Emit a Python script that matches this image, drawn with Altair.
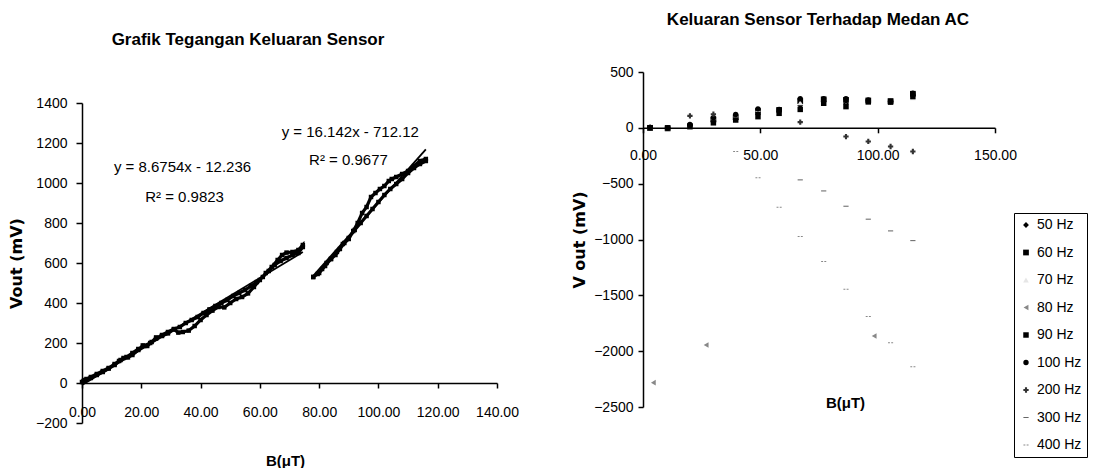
import altair as alt
import pandas as pd

FONT = "Liberation Sans, Arial, sans-serif"
VFONT = "DejaVu Sans"

# ---------------- left chart: hysteresis-like sensor output ----------------
loop1_x = [0.5, 1.5, 3, 5, 7, 9, 11, 12.5, 14, 15.5, 17, 19, 20.5, 22, 23.5, 25, 27, 29, 31, 32.5,
           34, 36, 38, 40, 42, 44, 46, 48, 50, 52, 54, 56, 58, 60, 62, 64, 66, 67.5, 69, 71, 73, 74.5,
           74.5, 73, 71, 69, 67, 65, 63, 61, 59, 57, 55, 53, 51, 49, 47, 45, 43, 41, 39, 37, 35, 33,
           31, 29, 27, 25, 23, 21, 19, 17, 15, 13, 11, 9, 7, 5, 3, 1, 0]
loop1_y = [10, 20, 25, 40, 55, 72, 90, 110, 125, 128, 140, 165, 188, 185, 205, 228, 235, 248, 268, 252,
           255, 262, 285, 315, 340, 362, 380, 378, 400, 420, 430, 448, 480, 515, 550, 580, 615, 640, 652, 655, 665, 690,
           680, 650, 640, 625, 610, 590, 560, 530, 505, 485, 465, 450, 435, 415, 400, 385, 368, 350, 330, 315, 300, 280,
           270, 255, 240, 222, 200, 185, 170, 150, 130, 115, 95, 75, 60, 45, 30, 15, 5]
loop2_x = [78, 79.5, 81, 82.5, 84, 85.5, 87, 88.5, 90, 91.5, 93, 94.5, 96, 97.5, 99, 100.5, 102, 103.5, 104.5,
           106, 108, 110, 112, 114, 116,
           116, 114, 112, 110, 108, 106, 104, 102, 100, 98, 96, 94, 92, 90, 88, 86, 84, 82, 80, 78]
loop2_y = [530, 545, 570, 600, 620, 640, 670, 700, 720, 760, 800, 850, 880, 930, 950, 970, 985, 1010, 1020,
           1030, 1045, 1060, 1085, 1110, 1120,
           1110, 1095, 1075, 1050, 1020, 995, 970, 940, 905, 870, 835, 800, 765, 725, 695, 655, 620, 585, 550, 530]

eq_text = ["y = 8.6754x - 12.236", "R² = 0.9823", "y = 16.142x - 712.12", "R² = 0.9677"]
eq_b = [33.9, 34.6, 90.5, 89.9]
eq_v = [1082, 932, 1257, 1115]

left_df = pd.DataFrame({
    "B": loop1_x + loop2_x,
    "V": loop1_y + loop2_y,
    "seri": ["1"] * len(loop1_x) + ["2"] * len(loop2_x),
    "i": list(range(len(loop1_x))) + list(range(len(loop2_x))),
})
eq_df = pd.DataFrame({"B": eq_b, "V": eq_v, "t": eq_text})

# ---------------- right chart: output vs AC field ----------------
freq_labels = ["50 Hz", "60 Hz", "70 Hz", "80 Hz", "90 Hz", "100 Hz", "200 Hz", "300 Hz", "400 Hz"]
B_ac = [3, 10.5, 20, 30, 39.5, 49, 58, 67, 77, 86.5, 96, 105.5, 115]
v50 = [5, 0, 20, 60, 75, 120, 140, 200, 240, 215, 240, 235, 290]
v60 = [0, -5, 15, 75, 95, 150, 160, 240, 255, 250, 245, 240, 305]
v70 = [5, 0, 25, 85, 110, 165, 155, 225, 230, 200, 235, 238, 270]
v90 = [0, 0, 10, 45, 70, 100, 130, 165, 220, 190, 232, 230, 280]
v100 = [3, -3, 30, 90, 120, 170, 165, 260, 260, 260, 250, 236, 310]
b80 = [4.4, 26.9, 98.5]
v80 = [-2282, -1944, -1864]
b200 = [20, 30, 67, 86.5, 96, 105.5, 115]
v200 = [107, 122, 51, -78, -122, -167, -212]
b300 = [67, 77, 86.5, 96, 105.5, 115]
v300 = [-466, -565, -702, -818, -923, -1010]
b400 = [39.5, 49, 58, 67, 77, 86.5, 96, 105.5, 115]
v400 = [-212, -448, -712, -974, -1198, -1445, -1690, -1924, -2139]

rows = []
for lab, bs, vs in [("50 Hz", B_ac, v50), ("60 Hz", B_ac, v60), ("70 Hz", B_ac, v70),
                    ("80 Hz", b80, v80), ("90 Hz", B_ac, v90), ("100 Hz", B_ac, v100),
                    ("200 Hz", b200, v200), ("300 Hz", b300, v300), ("400 Hz", b400, v400)]:
    for b, v in zip(bs, vs):
        rows.append({"B": b, "V": v, "f": lab})
right_df = pd.DataFrame(rows)

anchor_df = pd.DataFrame({"t": ["."]})
title_l_df = pd.DataFrame({"t": ["Grafik Tegangan Keluaran Sensor"]})
title_r_df = pd.DataFrame({"t": ["Keluaran Sensor Terhadap Medan AC"]})

# ---------------- build left chart ----------------
lx = alt.X("B:Q", scale=alt.Scale(domain=[0, 140], nice=False),
           axis=alt.Axis(values=list(range(0, 141, 20)), format=".2f", offset=-40,
                         title="B(μT)", titleX=203, titleY=77, titleBaseline="middle",
                         labelPadding=17, tickSize=5, labelOverlap=False, labelFlush=False))
ly = alt.Y("V:Q", scale=alt.Scale(domain=[-200, 1400], nice=False, range=[351, 31]),
           axis=alt.Axis(values=list(range(-200, 1401, 200)), format="d", title="Vout (mV)",
                         titleFont=VFONT, titleFontSize=16, titleX=-66, titleBaseline="middle",
                         labelPadding=9, tickSize=6, labelOverlap=False, labelFlush=False))

base_l = alt.Chart(left_df)
l_line = base_l.mark_line(color="black", strokeWidth=3.2).encode(x=lx, y=ly, detail="seri:N", order="i:Q")
l_pts = base_l.mark_square(color="black", size=20, opacity=1).encode(x="B:Q", y="V:Q")
l_trend = base_l.transform_regression("B", "V", groupby=["seri"]).mark_line(
    color="black", strokeWidth=1.8).encode(x="B:Q", y="V:Q", detail="seri:N")
l_text = alt.Chart(eq_df).mark_text(font=FONT, fontSize=15, color="black").encode(
    x="B:Q", y="V:Q", text="t:N")
l_title = alt.Chart(title_l_df).mark_text(font=FONT, fontSize=17, fontWeight="bold", color="black",
                                          baseline="middle", align="center").encode(
    x=alt.value(166), y=alt.value(-32), text="t:N")

left = alt.layer(l_line, l_pts, l_trend, l_text, l_title).properties(width=415, height=351)

# ---------------- build right chart ----------------
shape_range = ["diamond", "square", "triangle-up", "triangle-left", "square", "circle", "cross",
               "M-1,-0.2H1V0.2H-1Z", "M-1,-0.2H-0.25V0.2H-1Z M0.25,-0.2H1V0.2H0.25Z"]
size_range = [34, 26, 3, 8, 18, 26, 12, 8, 10]
color_range = ["black", "black", "#e6e6e6", "#888888", "black", "black", "#333333", "#666666", "#888888"]

leg = alt.Legend(title=None, orient="none", legendX=932, legendY=141, strokeColor="black",
                 fillColor="white", padding=5, labelFont=FONT, labelFontSize=14, labelColor="black",
                 rowPadding=13.5, symbolStrokeWidth=0)

rx = alt.X("B:Q", scale=alt.Scale(domain=[0, 150], nice=False),
           axis=alt.Axis(values=[0, 50, 100, 150], format=".2f", offset=-279.2,
                         title="B(μT)", titleX=202, titleY=275, titleBaseline="middle",
                         labelPadding=16, tickSize=5, labelOverlap=False, labelFlush=False))
ry = alt.Y("V:Q", scale=alt.Scale(domain=[-2500, 500], nice=False),
           axis=alt.Axis(values=list(range(-2500, 501, 500)), format="d", title="V out (mV)",
                         titleFont=VFONT, titleFontSize=16, titleX=-64, titleBaseline="middle",
                         labelPadding=5, tickSize=5, labelOverlap=False, labelFlush=False))

r_pts = alt.Chart(right_df).mark_point(filled=True, opacity=1).encode(
    x=rx, y=ry,
    color=alt.Color("f:N", sort=freq_labels, scale=alt.Scale(domain=freq_labels, range=color_range), legend=leg),
    shape=alt.Shape("f:N", sort=freq_labels, scale=alt.Scale(domain=freq_labels, range=shape_range), legend=leg),
    size=alt.Size("f:N", sort=freq_labels, scale=alt.Scale(domain=freq_labels, range=size_range), legend=leg),
)
r_title = alt.Chart(title_r_df).mark_text(font=FONT, fontSize=17, fontWeight="bold", color="black",
                                          baseline="middle", align="center").encode(
    x=alt.value(175), y=alt.value(-52), text="t:N")
r_anchor = alt.Chart(anchor_df).mark_text(color="white", baseline="top", align="left", fontSize=6).encode(
    x=alt.value(0), y=alt.value(-64), text="t:N")

right = alt.layer(r_pts, r_title, r_anchor).properties(width=352, height=335)

chart = alt.hconcat(left, right, spacing=52).configure(padding=0).configure_view(stroke=None).configure_axis(
    domainColor="black", tickColor="black", domainWidth=1.5, tickWidth=1.5, grid=False,
    labelFont=FONT, labelFontSize=14, labelColor="black", labelOverlap=False, labelFlush=False,
    titleFont=FONT, titleFontSize=15, titleFontWeight="bold", titleColor="black", titlePadding=0,
)

chart.save("out.html", embed_options={"renderer": "svg", "actions": False})
